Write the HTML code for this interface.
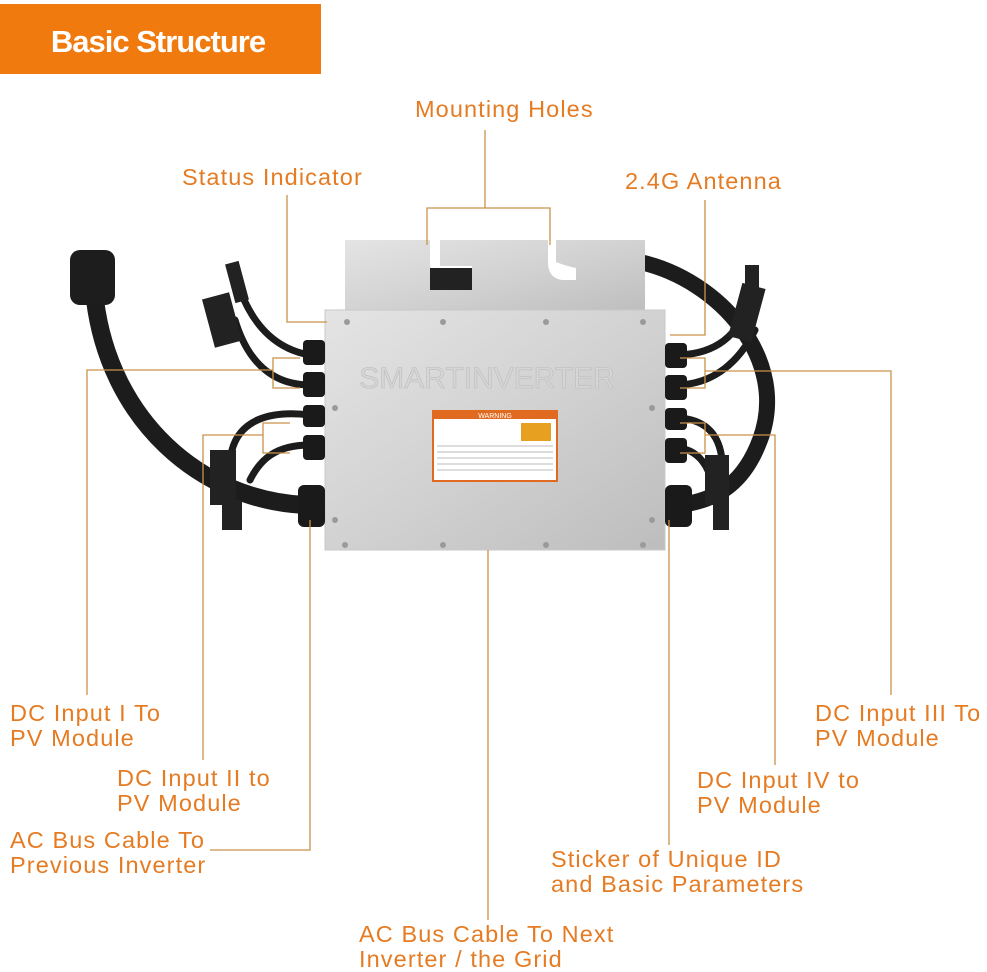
<!DOCTYPE html>
<html><head><meta charset="utf-8"><style>
body{margin:0;background:#fff;}
svg{display:block;}
.t{font-family:"Liberation Sans",sans-serif;font-size:23.5px;letter-spacing:1.1px;fill:#e57b22;}
.l{stroke:#c9924a;stroke-width:1.3;fill:none;}
.c{stroke:#1c1c1c;fill:none;stroke-linecap:round;}
</style></head><body>
<svg width="987" height="972" viewBox="0 0 987 972">
<defs>
<linearGradient id="g" x1="0" y1="0" x2="1" y2="1">
<stop offset="0" stop-color="#e4e4e4"/><stop offset="0.5" stop-color="#d2d2d2"/><stop offset="1" stop-color="#bdbdbd"/></linearGradient>
</defs>
<rect x="0" y="4" width="321" height="70" fill="#f07a0e"/>
<text x="158" y="52" text-anchor="middle" style="font-family:'Liberation Sans',sans-serif;font-weight:bold;font-size:31px;fill:#fff;letter-spacing:-1px">Basic Structure</text>

<path class="c" stroke-width="18" d="M95 300 C110 420,200 500,305 505"/>
<path class="c" stroke-width="16" d="M640 262 C720 280,790 360,760 440 C745 480,720 500,680 505"/>
<path class="c" stroke-width="7" d="M240 290 C255 330,280 350,310 355"/>
<path class="c" stroke-width="7" d="M235 320 C250 370,280 385,310 385"/>
<path class="c" stroke-width="7" d="M310 415 C270 410,240 420,232 450"/>
<path class="c" stroke-width="7" d="M310 445 C275 445,260 460,250 480"/>
<path class="c" stroke-width="7" d="M675 355 C710 355,735 340,745 310"/>
<path class="c" stroke-width="7" d="M675 385 C715 385,740 360,755 330"/>
<path class="c" stroke-width="7" d="M675 418 C710 418,720 440,722 460"/>
<path class="c" stroke-width="7" d="M675 448 C700 448,710 470,712 485"/>
<rect x="70" y="250" width="45" height="55" rx="10" fill="#1d1d1d"/>
<rect x="208" y="295" width="28" height="50" fill="#222" transform="rotate(-15 222 320)"/>
<rect x="230" y="262" width="14" height="40" fill="#222" transform="rotate(-15 237 282)"/>
<rect x="210" y="450" width="26" height="55" fill="#222"/>
<rect x="222" y="500" width="20" height="30" fill="#222"/>
<rect x="735" y="285" width="24" height="55" fill="#222" transform="rotate(15 747 312)"/>
<rect x="745" y="265" width="14" height="30" fill="#222"/>
<rect x="705" y="455" width="24" height="50" fill="#222"/>
<rect x="713" y="500" width="16" height="30" fill="#222"/>

<path d="M345 240 H430 V262 Q430 280 448 282 H472 V266 H440 V240 H548 V262 Q548 278 562 280 H576 V268 Q566 266 556 262 V240 H645 V315 H345 Z" fill="url(#g)"/>
<rect x="430" y="268" width="42" height="22" fill="#222"/>
<rect x="325" y="310" width="340" height="240" fill="url(#g)" stroke="#c8c8c8"/>
<text x="487" y="388" text-anchor="middle" style="font-family:'Liberation Sans',sans-serif;font-size:30px;fill:#d6d6d6;stroke:#bcbcbc;stroke-width:.6">SMARTINVERTER</text>
<g fill="#9a9a9a"><circle cx="347" cy="322" r="3"/><circle cx="443" cy="322" r="3"/><circle cx="546" cy="322" r="3"/><circle cx="643" cy="322" r="3"/><circle cx="335" cy="408" r="3"/><circle cx="652" cy="408" r="3"/><circle cx="335" cy="520" r="3"/><circle cx="652" cy="520" r="3"/><circle cx="345" cy="545" r="3"/><circle cx="443" cy="545" r="3"/><circle cx="546" cy="545" r="3"/><circle cx="643" cy="545" r="3"/></g>
<rect x="433" y="411" width="124" height="70" fill="#fff" stroke="#e06a20" stroke-width="2"/>
<rect x="433" y="411" width="124" height="8" fill="#e06a20"/>
<text x="495" y="418" text-anchor="middle" style="font-family:'Liberation Sans',sans-serif;font-size:7px;fill:#fff">WARNING</text>
<g fill="#e8a020"><rect x="521" y="423" width="30" height="18"/></g>
<g stroke="#bbb" stroke-width="1"><line x1="437" y1="446" x2="553" y2="446"/><line x1="437" y1="452" x2="553" y2="452"/><line x1="437" y1="458" x2="553" y2="458"/><line x1="437" y1="464" x2="553" y2="464"/><line x1="437" y1="470" x2="553" y2="470"/></g>
<g fill="#1a1a1a"><rect x="303" y="340" width="22" height="25" rx="4"/><rect x="303" y="372" width="22" height="25" rx="4"/><rect x="303" y="405" width="22" height="22" rx="4"/><rect x="303" y="435" width="22" height="25" rx="4"/><rect x="298" y="485" width="27" height="42" rx="6"/>
<rect x="665" y="343" width="22" height="25" rx="4"/><rect x="665" y="375" width="22" height="25" rx="4"/><rect x="665" y="408" width="22" height="22" rx="4"/><rect x="665" y="438" width="22" height="25" rx="4"/><rect x="665" y="485" width="27" height="42" rx="6"/></g>

<path class="l" d="M485 130 V208 M427 245 V208 H550 V245"/>
<path class="l" d="M287 195 V322 H327"/>
<path class="l" d="M705 200 V335 H670"/>
<path class="l" d="M87 695 V370 H273 M300 358 H273 V388 H300"/>
<path class="l" d="M203 760 V435 H263 M290 423 H263 V453 H290"/>
<path class="l" d="M210 850 H310 V520"/>
<path class="l" d="M488 550 V920"/>
<path class="l" d="M669 520 V845"/>
<path class="l" d="M775 765 V435 H705 M680 423 H705 V453 H680"/>
<path class="l" d="M891 695 V371 H705 M680 358 H705 V388 H680"/>

<text class="t" x="415" y="117">Mounting Holes</text>
<text class="t" x="182" y="185">Status Indicator</text>
<text class="t" x="625" y="189">2.4G Antenna</text>
<text class="t" x="10" y="721">DC Input I To</text>
<text class="t" x="10" y="746">PV Module</text>
<text class="t" x="117" y="786">DC Input II to</text>
<text class="t" x="117" y="811">PV Module</text>
<text class="t" x="10" y="848">AC Bus Cable To</text>
<text class="t" x="10" y="873">Previous Inverter</text>
<text class="t" x="359" y="942">AC Bus Cable To Next</text>
<text class="t" x="359" y="967">Inverter / the Grid</text>
<text class="t" x="551" y="867">Sticker of Unique ID</text>
<text class="t" x="551" y="892">and Basic Parameters</text>
<text class="t" x="697" y="788">DC Input IV to</text>
<text class="t" x="697" y="813">PV Module</text>
<text class="t" x="815" y="721">DC Input III To</text>
<text class="t" x="815" y="746">PV Module</text>
</svg>
</body></html>
